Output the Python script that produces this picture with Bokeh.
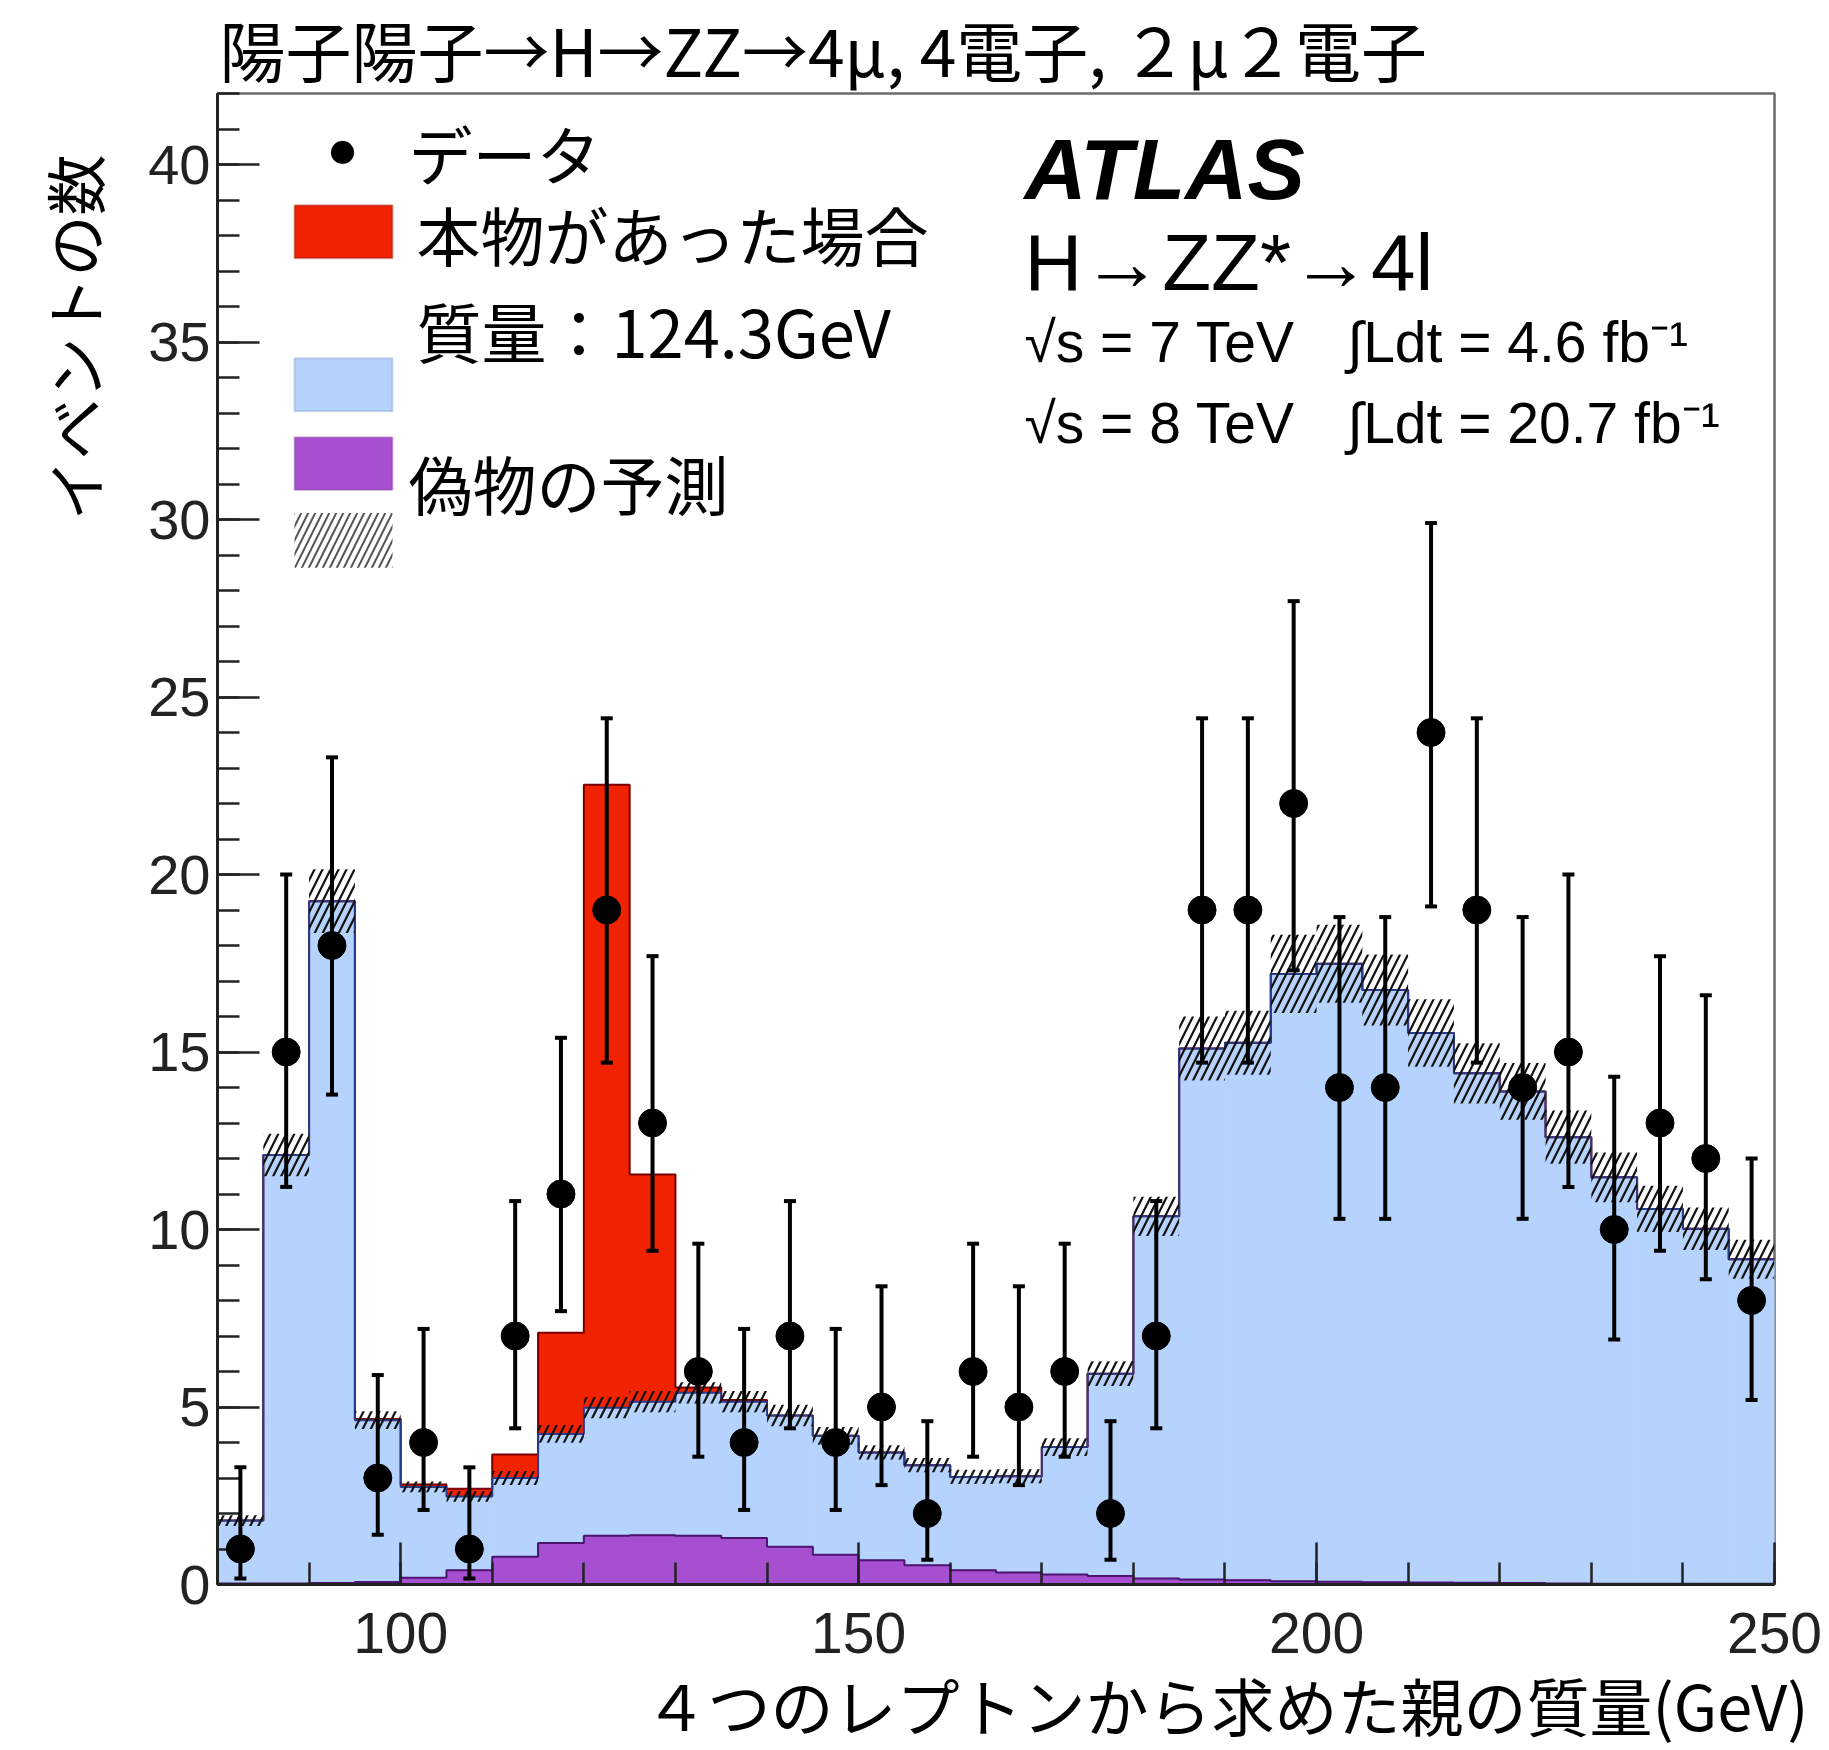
from bokeh.plotting import figure
from bokeh.models import (Range1d, FixedTicker, Label, BoxAnnotation, Whisker,
                          TeeHead, ColumnDataSource, Title)
from bokeh.embed import file_html
from bokeh.resources import INLINE

# ---------------- data ----------------
bin_lo = [80, 85, 90, 95, 100, 105, 110, 115, 120, 125, 130, 135, 140, 145, 150, 155, 160,
          165, 170, 175, 180, 185, 190, 195, 200, 205, 210, 215, 220, 225, 230, 235, 240, 245]
bin_hi = [85, 90, 95, 100, 105, 110, 115, 120, 125, 130, 135, 140, 145, 150, 155, 160, 165,
          170, 175, 180, 185, 190, 195, 200, 205, 210, 215, 220, 225, 230, 235, 240, 245, 250]

# ZZ* background (light blue), stacked on the reducible background
zz_bkg = [1.77, 12.07, 19.21, 4.56, 2.56, 2.08, 2.22, 3.07, 3.61, 3.76, 4.03, 3.84, 3.70,
          3.35, 3.04, 2.82, 2.63, 2.71, 3.59, 5.70, 10.20, 14.96, 15.14, 17.11, 17.41, 16.68,
          15.48, 14.35, 13.85, 12.57, 11.45, 10.56, 10.00, 9.14]
# reducible ("fake") background, purple
reducible_bkg = [0.03, 0.03, 0.04, 0.07, 0.19, 0.40, 0.78, 1.17, 1.37, 1.39, 1.37, 1.31, 1.06,
                 0.84, 0.68, 0.54, 0.40, 0.34, 0.28, 0.24, 0.17, 0.14, 0.12, 0.09, 0.075, 0.065,
                 0.055, 0.05, 0.04, 0.03, 0.02, 0.02, 0.02, 0.02]
# Higgs signal, m_H = 124.3 GeV (red)
signal_h = [0.0, 0.0, 0.0, 0.03, 0.07, 0.22, 0.66, 2.85, 17.55, 6.40, 0.15, 0.05, 0.0, 0.0,
            0.0, 0.0, 0.0, 0.0, 0.0, 0.0, 0.0, 0.0, 0.0, 0.0, 0.0, 0.0, 0.0, 0.0, 0.0, 0.0,
            0.0, 0.0, 0.0, 0.0]
# systematic uncertainty on the total background (hatched band, +/-)
bkg_unc = [0.15, 0.6, 0.9, 0.25, 0.15, 0.15, 0.2, 0.25, 0.3, 0.3, 0.3, 0.3, 0.3, 0.25, 0.2,
           0.2, 0.2, 0.2, 0.25, 0.35, 0.55, 0.9, 0.9, 1.1, 1.1, 1.0, 0.95, 0.85, 0.8, 0.75,
           0.7, 0.65, 0.6, 0.55]

data_counts = [1, 15, 18, 3, 4, 1, 7, 11, 19, 13, 6, 4, 7, 4, 5, 2, 6, 5, 6, 2, 7, 19, 19, 22,
               14, 14, 24, 19, 14, 15, 10, 13, 12, 8]
data_low = [0.17, 11.2, 13.8, 1.4, 2.1, 0.17, 4.4, 7.7, 14.7, 9.4, 3.6, 2.1, 4.4, 2.1, 2.8,
            0.7, 3.6, 2.8, 3.6, 0.7, 4.4, 14.7, 14.7, 17.3, 10.3, 10.3, 19.1, 14.7, 10.3, 11.2,
            6.9, 9.4, 8.6, 5.2]
data_high = [3.3, 20.0, 23.3, 5.9, 7.2, 3.3, 10.8, 15.4, 24.4, 17.7, 9.6, 7.2, 10.8, 7.2, 8.4,
             4.6, 9.6, 8.4, 9.6, 4.6, 10.8, 24.4, 24.4, 27.7, 18.8, 18.8, 29.9, 24.4, 18.8, 20.0,
             14.3, 17.7, 16.6, 12.0]

x_ticks = [100, 150, 200, 250]
x_minor = [80, 90, 100, 110, 120, 130, 140, 150, 160, 170, 180, 190, 200, 210, 220, 230, 240, 250]
y_ticks = [0, 5, 10, 15, 20, 25, 30, 35, 40]
y_minor = list(range(0, 43))

title_text = "陽子陽子→H→ZZ→4μ, 4電子, ２μ２電子"
x_label_text = "４つのレプトンから求めた親の質量(GeV)"
y_label_text = "イベントの数"
legend_data = "データ"
legend_signal = ["本物があった場合", "質量：124.3GeV"]
legend_fake = "偽物の予測"
atlas_lines = ["ATLAS", "H→ZZ*→4l", "√s = 7 TeV", "∫Ldt = 4.6 fb⁻¹", "√s = 8 TeV", "∫Ldt = 20.7 fb⁻¹"]

# ---------------- derived (stacking) ----------------
red_top = reducible_bkg
bkg_total = [z + r for z, r in zip(zz_bkg, reducible_bkg)]
sig_top = [b + s for b, s in zip(bkg_total, signal_h)]
band_lo = [b - u for b, u in zip(bkg_total, bkg_unc)]
band_hi = [b + u for b, u in zip(bkg_total, bkg_unc)]
centers = [(a + b) / 2 for a, b in zip(bin_lo, bin_hi)]

hist = ColumnDataSource(dict(left=bin_lo, right=bin_hi, bkg=bkg_total, sig=sig_top,
                             red=red_top, blo=band_lo, bhi=band_hi))
pts = ColumnDataSource(dict(x=centers, y=data_counts, lo=data_low, hi=data_high))

edges = bin_lo + [bin_hi[-1]]
def ext(v):
    return list(v) + [v[-1]]

# ---------------- styles ----------------
JP = "Noto Sans CJK JP"
LAT = "Liberation Sans"
BLUE = "#b5d3fd"
BLUE_EDGE = "#2b3b8c"
RED = "#f02200"
RED_EDGE = "#7a0000"
PURPLE = "#a64fd1"
PURPLE_EDGE = "#4a1470"

p = figure(width=1825, height=1748, x_range=Range1d(80, 250), y_range=Range1d(0, 42),
           output_backend="svg", toolbar_location=None,
           min_border_left=217, min_border_right=51, min_border_top=93, min_border_bottom=148)
p.grid.visible = False
p.background_fill_color = "white"
p.border_fill_color = "white"
p.outline_line_color = "#6a6a6a"
p.outline_line_width = 2.5

for ax in (p.xaxis[0], p.yaxis[0]):
    ax.major_tick_in = 42
    ax.major_tick_out = 0
    ax.minor_tick_in = 22
    ax.minor_tick_out = 0
    ax.major_tick_line_width = 2.5
    ax.minor_tick_line_width = 2.5
    ax.major_tick_line_color = "#222222"
    ax.minor_tick_line_color = "#222222"
    ax.axis_line_width = 3
    ax.axis_line_color = "#222222"
    ax.major_label_text_font = LAT
    ax.major_label_text_color = "#222222"

p.xaxis[0].ticker = FixedTicker(ticks=x_ticks, minor_ticks=x_minor)
p.xaxis[0].major_label_text_font_size = "57px"
p.xaxis[0].major_label_standoff = 28
p.yaxis[0].ticker = FixedTicker(ticks=y_ticks, minor_ticks=y_minor)
p.yaxis[0].major_label_text_font_size = "56px"
p.yaxis[0].major_label_standoff = 7

# titles (plot title and axis titles as side-panel titles)
p.title.text = title_text
p.title.align = "left"
p.title.offset = 2
p.title.standoff = -7
p.title.vertical_align = "middle"
p.title.text_font = JP
p.title.text_font_size = "66px"
p.title.text_font_style = "normal"
p.title.text_color = "black"

p.add_layout(Title(text=y_label_text, align="right", offset=61, standoff=52, vertical_align="top",
                   text_font=JP, text_font_size="61px", text_font_style="normal",
                   text_color="black"), "left")
p.add_layout(Title(text=x_label_text, align="right", offset=-34, standoff=0, text_font=JP,
                   text_font_size="63px", text_font_style="normal", text_color="black"), "below")

# stacked histograms
p.quad(left="left", right="right", bottom=0, top="bkg", source=hist,
       fill_color=BLUE, line_color=BLUE, line_width=1)
p.quad(left="left", right="right", bottom="bkg", top="sig", source=hist,
       fill_color=RED, line_color=RED, line_width=1)
p.quad(left="left", right="right", bottom=0, top="red", source=hist,
       fill_color=PURPLE, line_color=PURPLE, line_width=1)
p.step(x=edges, y=ext(sig_top), mode="after", line_color=RED_EDGE, line_width=2)
p.step(x=edges, y=ext(bkg_total), mode="after", line_color=BLUE_EDGE, line_width=2)
p.step(x=edges, y=ext(red_top), mode="after", line_color=PURPLE_EDGE, line_width=2)

# uncertainty band
p.quad(left="left", right="right", bottom="blo", top="bhi", source=hist,
       fill_alpha=0, line_alpha=0, hatch_pattern="/", hatch_color="#111111",
       hatch_scale=16, hatch_weight=2.2)

# data with error bars
wh = Whisker(source=pts, base="x", lower="lo", upper="hi", line_width=4, line_color="black",
             upper_head=TeeHead(size=12, line_width=4, line_color="black"),
             lower_head=TeeHead(size=12, line_width=4, line_color="black"),
             level="annotation")
p.add_layout(wh)
p.scatter(x="x", y="y", source=pts, size=28, color="black", level="annotation")

# ---------------- legend (manual, annotation layer) ----------------
sw_l, sw_r = 88.41, 99.11
p.add_layout(BoxAnnotation(left=92.4, right=94.9, bottom=40.02, top=40.66, fill_color="black",
                           fill_alpha=1, line_color="black", border_radius=12))
p.add_layout(BoxAnnotation(left=sw_l, right=sw_r, bottom=37.36, top=38.85, fill_color=RED,
                           fill_alpha=1, line_color=RED_EDGE, line_width=2))
p.add_layout(BoxAnnotation(left=sw_l, right=sw_r, bottom=33.05, top=34.54, fill_color=BLUE,
                           fill_alpha=1, line_color="#6f86c0", line_width=2))
p.add_layout(BoxAnnotation(left=sw_l, right=sw_r, bottom=30.83, top=32.32, fill_color=PURPLE,
                           fill_alpha=1, line_color="#7a35a0", line_width=2))
p.add_layout(BoxAnnotation(left=sw_l, right=sw_r, bottom=28.64, top=30.18, fill_alpha=0,
                           line_alpha=0, hatch_pattern="/", hatch_color="#555555",
                           hatch_scale=14, hatch_weight=2))

def lab(x, y, text, size, font=JP, align="left", style="normal"):
    p.add_layout(Label(x=x, y=y, text=text, text_font=font, text_font_size=size,
                       text_align=align, text_baseline="middle", text_color="black",
                       text_font_style=style))

lab(100.85, 40.34, legend_data, "64px")
lab(101.73, 38.06, legend_signal[0], "64px")
lab(101.73, 35.33, legend_signal[1], "65px")
lab(100.85, 31.05, legend_fake, "64px")

# ATLAS block
lab(168.11, 39.86, atlas_lines[0], "86px", font=LAT, style="bold italic")
lab(168.11, 37.24, atlas_lines[1], "80px", font=LAT)
lab(168.11, 34.99, atlas_lines[2], "57px", font=LAT)
lab(203.38, 34.99, atlas_lines[3], "57px", font=LAT)
lab(168.11, 32.71, atlas_lines[4], "57px", font=LAT)
lab(203.38, 32.71, atlas_lines[5], "57px", font=LAT)

open("out.html", "w").write(file_html(p, INLINE))
